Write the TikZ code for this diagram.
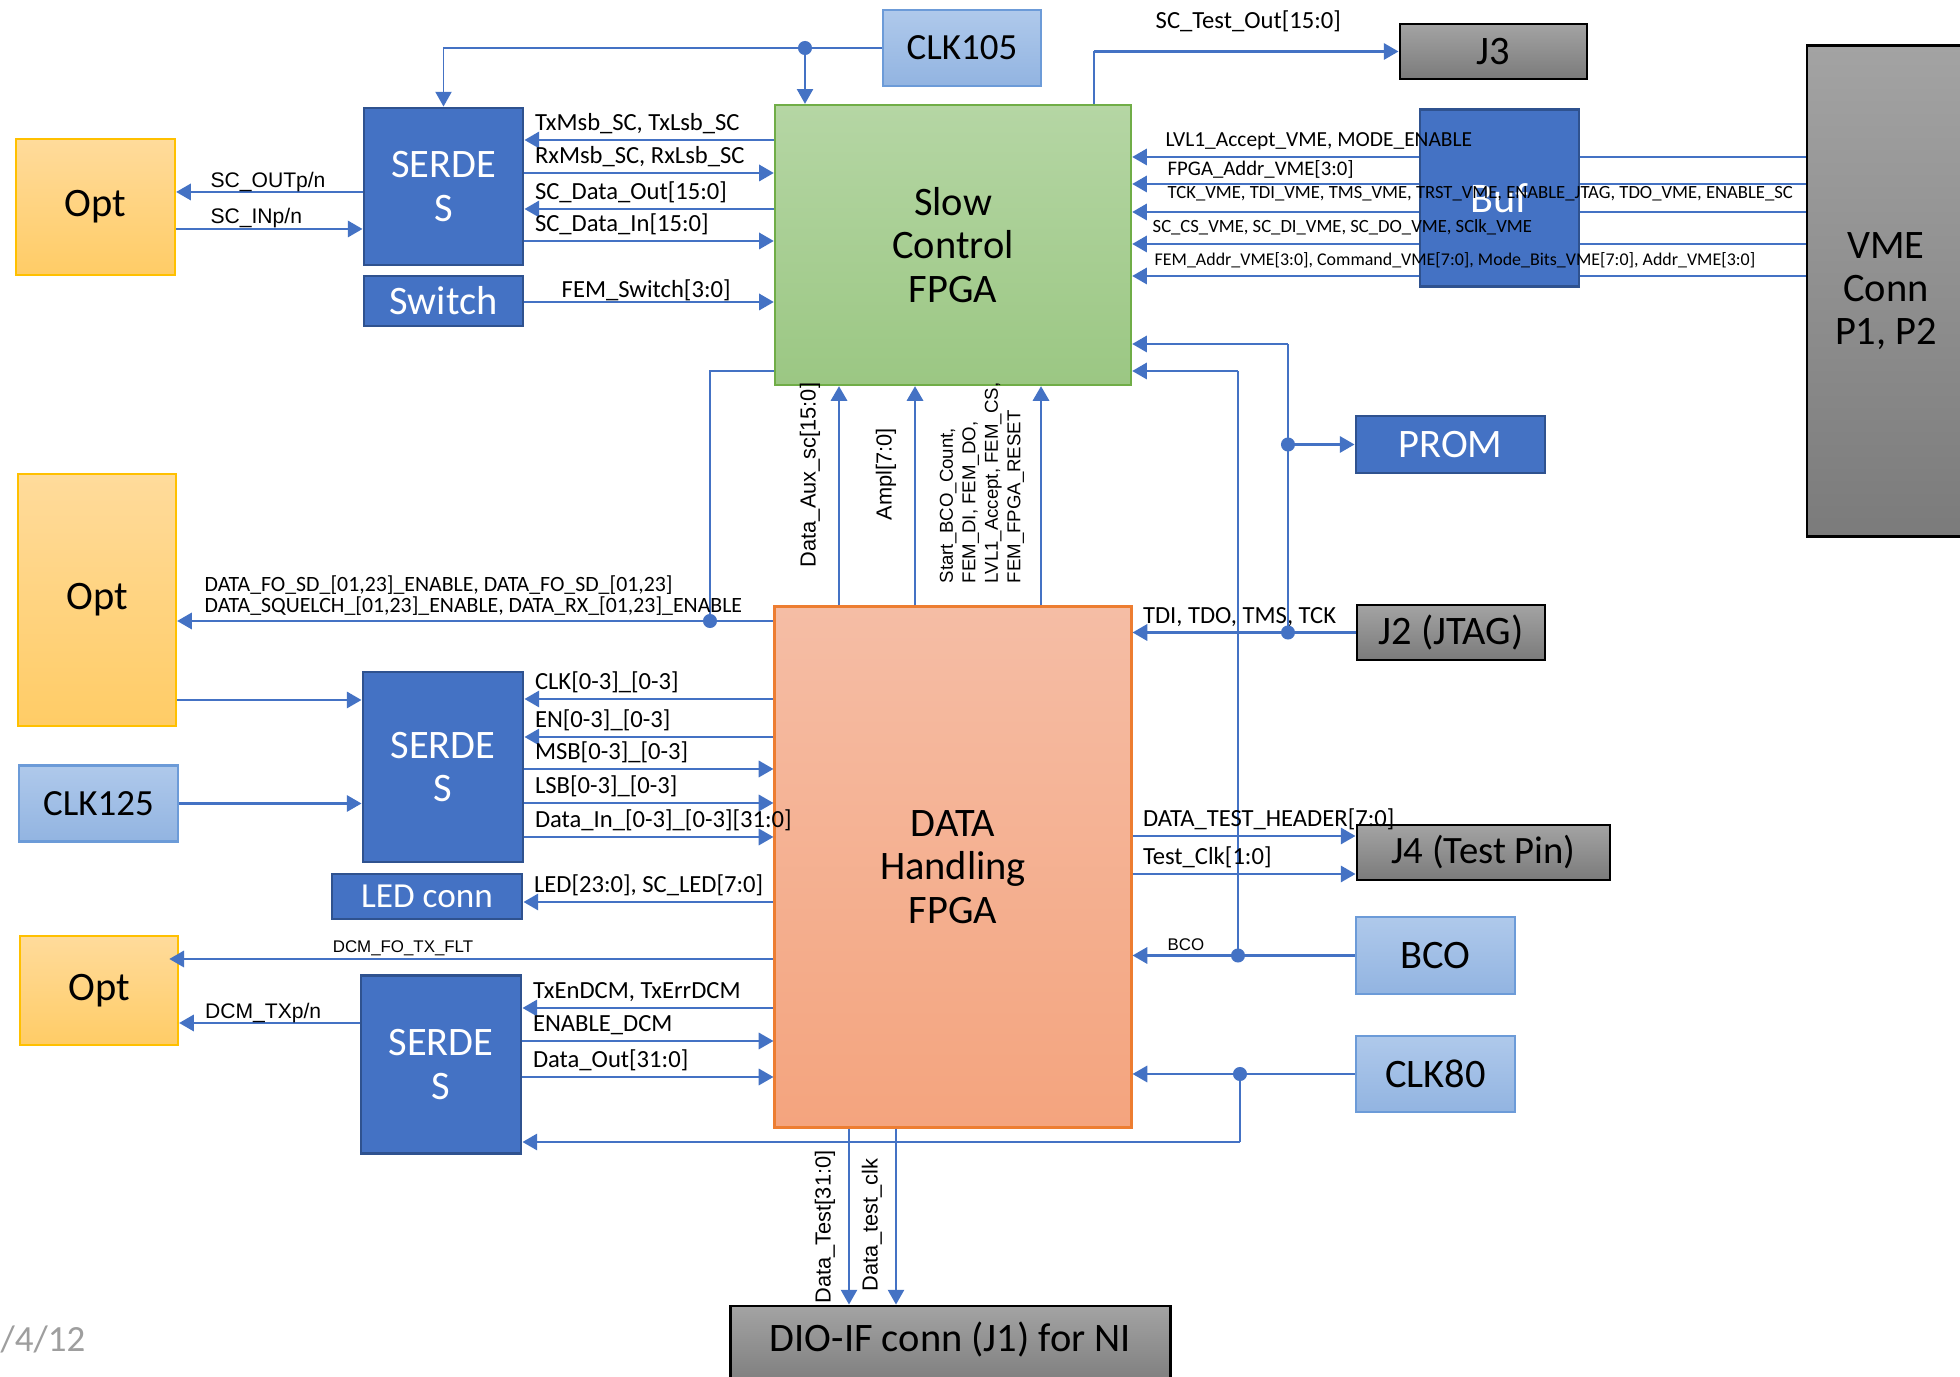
\documentclass[tikz,border=0pt]{standalone}
\usepackage{fontspec}
\setmainfont{Carlito}
\newfontfamily\arialfont{Liberation Sans}
\usetikzlibrary{arrows.meta}

\definecolor{boxblue}{HTML}{4472C4}
\definecolor{boxedge}{HTML}{2F528F}
\definecolor{wireblue}{HTML}{4472C4}
\definecolor{optlight}{HTML}{FFDB9B}
\definecolor{optdark}{HTML}{FFCC66}
\definecolor{optedge}{HTML}{FFC000}
\definecolor{clklight}{HTML}{AFC9EB}
\definecolor{clkdark}{HTML}{92B4E1}
\definecolor{clkedge}{HTML}{6C9BD8}
\definecolor{sclight}{HTML}{B5D6A4}
\definecolor{scdark}{HTML}{9BC783}
\definecolor{scedge}{HTML}{70AD47}
\definecolor{dhlight}{HTML}{F5BDA5}
\definecolor{dhdark}{HTML}{F4A47E}
\definecolor{dhedge}{HTML}{ED7D31}
\definecolor{graylight}{HTML}{A3A3A3}
\definecolor{graydark}{HTML}{7B7B7B}

\begin{document}
\begin{tikzpicture}[x=0.01cm, y=-0.01cm, >={Triangle[length=4.2pt,width=4.6pt]},
    blk/.style={draw, line width=0.8pt, inner sep=0pt, align=center, font=\fontsize{11.5}{12.3}\selectfont},
    bluebox/.style={blk, fill=boxblue, draw=boxedge, text=white},
    optbox/.style={blk, top color=optlight, bottom color=optdark, draw=optedge, line width=0.6pt},
    clkbox/.style={blk, top color=clklight, bottom color=clkdark, draw=clkedge, line width=0.6pt},
    connbox/.style={blk, top color=graylight, bottom color=graydark, draw=black},
    sig/.style={draw=wireblue, line width=0.8pt},
    wire/.style={draw=wireblue, line width=0.45pt},
    busline/.style={draw=wireblue, line width=0.6pt},
    lbl/.style={font=\fontsize{7}{8}\selectfont, inner sep=0pt, anchor=base west},
    tag/.style={lbl, pos=0, xshift=2.6pt, yshift=2.6pt},
    vlbl/.style={lbl, font=\fontsize{5.3}{6}\selectfont},
    alb/.style={font=\arialfont\fontsize{6}{7}\selectfont, inner sep=0pt, pos=0, anchor=base west},
    tinylbl/.style={font=\arialfont\fontsize{4.8}{6}\selectfont, inner sep=0pt, anchor=base},
    rlbl/.style={font=\arialfont\fontsize{6.2}{6.4}\selectfont, inner sep=0pt, rotate=90, align=left},
  ]
    \clip (0,0) rectangle (1960,1377);
    \fill[white] (0,0) rectangle (1960,1377);

    % blocks
    \node[optbox, minimum width=1.59cm, minimum height=1.36cm] (optA) at (95.5,207) {Opt};
    \node[bluebox, minimum width=1.59cm, minimum height=1.57cm] (serA) at (443.5,186.5) {SERDE\\S};
    \node[bluebox, minimum width=1.59cm, minimum height=0.50cm] (sw) at (443.5,301) {Switch};
    \node[clkbox, minimum width=1.58cm, minimum height=0.76cm, font=\fontsize{10.5}{12}\selectfont] (clkA) at (962,48) {CLK105};
    \node[blk, top color=sclight, bottom color=scdark, draw=scedge, line width=0.6pt, minimum width=3.56cm, minimum height=2.80cm] (sc) at (953,245) {Slow\\Control\\FPGA};
    \node[connbox, minimum width=1.87cm, minimum height=0.55cm] (jthree) at (1493.5,51.5) {J3};
    \node[connbox, minimum width=1.58cm, minimum height=4.90cm] (vme) at (1886,291) {VME\\Conn\\P1, P2};
    \node[bluebox, minimum width=1.89cm, minimum height=0.57cm] (prom) at (1450.5,444.5) {PROM};
    \node[optbox, minimum width=1.58cm, minimum height=2.52cm] (optB) at (97,600) {Opt};
    \node[connbox, minimum width=1.88cm, minimum height=0.55cm] (jtwo) at (1451,632.5) {J2 (JTAG)};
    \node[blk, top color=dhlight, bottom color=dhdark, draw=dhedge, minimum width=3.56cm, minimum height=5.20cm] (dh) at (953,867) {DATA\\Handling\\FPGA};
    \node[bluebox, minimum width=1.60cm, minimum height=1.90cm] (serB) at (443,767) {SERDE\\S};
    \node[clkbox, minimum width=1.59cm, minimum height=0.76cm, font=\fontsize{10.5}{12}\selectfont] (clkB) at (98.5,803.5) {CLK125};
    \node[bluebox, minimum width=1.90cm, minimum height=0.45cm, font=\fontsize{10}{12}\selectfont] (led) at (427,896.5) {LED conn};
    \node[connbox, minimum width=2.53cm, minimum height=0.55cm, font=\fontsize{11}{12}\selectfont] (jfour) at (1483.5,852.5) {J4 (Test Pin)};
    \node[optbox, minimum width=1.58cm, minimum height=1.09cm] (optC) at (99,990.5) {Opt};
    \node[bluebox, minimum width=1.60cm, minimum height=1.78cm] (serC) at (441,1064.5) {SERDE\\S};
    \node[clkbox, minimum width=1.59cm, minimum height=0.77cm] (bco) at (1435.5,955.5) {BCO};
    \node[clkbox, minimum width=1.59cm, minimum height=0.76cm] (clkC) at (1435.5,1074) {CLK80};
    \node[connbox, minimum width=4.39cm, minimum height=0.84cm, text depth=0.22cm] (dio) at (950.5,1348) {DIO-IF conn (J1) for NI};

    % branch points
    \coordinate (dA) at (805,48);
    \coordinate (tc) at (jthree.west -| 1094,0);
    \coordinate (jA) at (jtwo.west -| 1288,0);
    \coordinate (pA) at (prom.west -| 1288,0);
    \coordinate (jTop) at (1288,344);
    \coordinate (bA) at (bco.west -| 1238,0);
    \coordinate (bTop) at (1238,371);
    \coordinate (cA) at (clkC.west -| 1240,0);
    \coordinate (cBot) at (1240,1142);
    \coordinate (dF) at (710,621);

    % clock 105 and test out
    \draw[wire,->] (clkA.west) -| (serA.north);
    \draw[wire,->] (dA) -- (dA |- sc.north);
    \draw[wire] (sc.north -| tc) -- (tc);
    \draw[sig,->] (tc) -- (jthree.west);
    \node[lbl] (tTest) at (1155,29) {SC\_Test\_Out[15:0]};

    % optical link and slow control serdes
    \draw[sig,<-] (optA.east |- 0,192) -- (serA.west |- 0,192) node[alb, xshift=9.4pt, yshift=1.2pt] (tOut) {SC\_OUTp/n};
    \draw[sig,->] (optA.east |- 0,229) -- (serA.west |- 0,229) node[alb, xshift=9.4pt, yshift=1.7pt] (tIn) {SC\_INp/n};
    \draw[sig,<-] (serA.east |- 0,140) -- (sc.west |- 0,140) node[tag] (tTx) {TxMsb\_SC, TxLsb\_SC};
    \draw[sig,->] (serA.east |- 0,173) -- (sc.west |- 0,173) node[tag] (tRx) {RxMsb\_SC, RxLsb\_SC};
    \draw[sig,<-] (serA.east |- 0,209) -- (sc.west |- 0,209) node[tag] (tDo) {SC\_Data\_Out[15:0]};
    \draw[sig,->] (serA.east |- 0,241) -- (sc.west |- 0,241) node[tag] (tDi) {SC\_Data\_In[15:0]};
    \draw[sig,->] (sw.east |- 0,302) -- (sc.west |- 0,302) node[tag, xshift=7.6pt, yshift=-1.2pt] (tSw) {FEM\_Switch[3:0]};

    % VME bus through the buffer
    \foreach \y in {157,184,212,244,276} {\draw[sig,<-] (sc.east |- 0,\y) -- (vme.west |- 0,\y);}
    \node[bluebox, minimum width=1.59cm, minimum height=1.77cm, font=\fontsize{12}{13}\selectfont] (buf) at (1499.5,198) {Buf};
    \node[vlbl, font=\fontsize{6.1}{7}\selectfont] (tV1) at (1165,147) {LVL1\_Accept\_VME, MODE\_ENABLE};
    \node[vlbl, font=\fontsize{5.9}{7}\selectfont] (tV2) at (1167,176) {FPGA\_Addr\_VME[3:0]};
    \node[vlbl] (tV3) at (1167,199) {TCK\_VME, TDI\_VME, TMS\_VME, TRST\_VME, ENABLE\_JTAG, TDO\_VME, ENABLE\_SC};
    \node[vlbl] (tV4) at (1152,233) {SC\_CS\_VME, SC\_DI\_VME, SC\_DO\_VME, SClk\_VME};
    \node[vlbl, font=\fontsize{5.1}{6}\selectfont] (tV5) at (1154,266) {FEM\_Addr\_VME[3:0], Command\_VME[7:0], Mode\_Bits\_VME[7:0], Addr\_VME[3:0]};

    % JTAG and PROM
    \draw[sig,<-] (jtwo.west -| dh.east) -- (jtwo.west) node[tag] (tJtag) {TDI, TDO, TMS, TCK};
    \draw[wire] (jA) -- (jTop);
    \draw[sig,->] (jTop) -- (sc.east |- jTop);
    \draw[sig,->] (pA) -- (prom.west);

    % BCO and CLK80
    \draw[sig,<-] (bco.west -| dh.east) -- (bco.west);
    \node[tinylbl] (tBco) at (1186,951) {BCO};
    \draw[wire] (bA) -- (bTop);
    \draw[sig,->] (bTop) -- (sc.east |- bTop);
    \draw[sig,<-] (clkC.west -| dh.east) -- (clkC.west);
    \draw[wire] (cA) -- (cBot);
    \draw[sig,->] (cBot) -- (serC.east |- cBot);

    % data FPGA to slow control
    \foreach \x in {839,915,1041} {\draw[sig,->] (dh.north -| \x,0) -- (sc.south -| \x,0);}
    \node[rlbl] (tAux) at (810,475) {Data\_Aux\_sc[15:0]};
    \node[rlbl] (tAmpl) at (886,474) {Ampl[7:0]};
    \node[rlbl, font=\arialfont\fontsize{5.3}{6.4}\selectfont] (tCtl) at (982,483) {Start\_BCO\_Count,\\FEM\_DI, FEM\_DO,\\LVL1\_Accept, FEM\_CS,\\FEM\_FPGA\_RESET};

    % fibre control
    \draw[wire] (sc.west |- 0,371) -| (dF);
    \draw[sig,<-] (optB.east |- dF) -- (dh.west |- dF);
    \node[lbl, font=\fontsize{6.2}{7}\selectfont] (tFo1) at (204,592) {DATA\_FO\_SD\_[01,23]\_ENABLE, DATA\_FO\_SD\_[01,23]};
    \node[lbl, font=\fontsize{6.2}{7}\selectfont] (tFo2) at (204,613) {DATA\_SQUELCH\_[01,23]\_ENABLE, DATA\_RX\_[01,23]\_ENABLE};

    % data serdes
    \draw[sig,->] (optB.east |- 0,700) -- (serB.west |- 0,700);
    \draw[sig,->] (clkB.east) -- (serB.west |- clkB.east);
    \draw[sig,<-] (serB.east |- 0,699) -- (dh.west |- 0,699) node[tag] (tClk) {CLK[0-3]\_[0-3]};
    \draw[sig,<-] (serB.east |- 0,737) -- (dh.west |- 0,737) node[tag] (tEn) {EN[0-3]\_[0-3]};
    \draw[sig,->] (serB.east |- 0,769) -- (dh.west |- 0,769) node[tag] (tMsb) {MSB[0-3]\_[0-3]};
    \draw[sig,->] (serB.east |- 0,803) -- (dh.west |- 0,803) node[tag] (tLsb) {LSB[0-3]\_[0-3]};
    \draw[sig,->] (serB.east |- 0,837) -- (dh.west |- 0,837) node[tag] (tDin) {Data\_In\_[0-3]\_[0-3][31:0]};
    \draw[sig,<-] (led.east |- 0,902) -- (dh.west |- 0,902) node[tag] (tLed) {LED[23:0], SC\_LED[7:0]};

    % DCM link
    \draw[sig,<-,shorten <=-2.8pt] (optC.east |- 0,959) -- (dh.west |- 0,959);
    \node[tinylbl] (tFlt) at (403,953) {DCM\_FO\_TX\_FLT};
    \draw[sig,<-] (optC.east |- 0,1023) -- (serC.west |- 0,1023) node[alb, xshift=7pt, yshift=1.4pt] (tTxp) {DCM\_TXp/n};
    \draw[sig,<-] (serC.east |- 0,1008) -- (dh.west |- 0,1008) node[tag] (tTxe) {TxEnDCM, TxErrDCM};
    \draw[sig,->] (serC.east |- 0,1041) -- (dh.west |- 0,1041) node[tag] (tEnd) {ENABLE\_DCM};
    \draw[sig,->] (serC.east |- 0,1077) -- (dh.west |- 0,1077) node[tag] (tDout) {Data\_Out[31:0]};

    % test outputs
    \draw[sig,->] (dh.east |- 0,836) -- (jfour.west |- 0,836) node[tag] (tHdr) {DATA\_TEST\_HEADER[7:0]};
    \draw[sig,->] (dh.east |- 0,874) -- (jfour.west |- 0,874) node[tag] (tTclk) {Test\_Clk[1:0]};
    \draw[busline,->] (dh.south -| 849,0) -- (dio.north -| 849,0);
    \draw[busline,->] (dh.south -| 896,0) -- (dio.north -| 896,0);
    \node[rlbl] (tDt) at (825,1227) {Data\_Test[31:0]};
    \node[rlbl] (tDtc) at (872,1225) {Data\_test\_clk};

    \foreach \p in {dA,jA,pA,bA,cA,dF} {\fill[wireblue] (\p) circle (2pt);}
    \node[lbl, font=\fontsize{10.5}{12}\selectfont, text=black!38] (tDate) at (0,1352) {/4/12};
\end{tikzpicture}
\end{document}
